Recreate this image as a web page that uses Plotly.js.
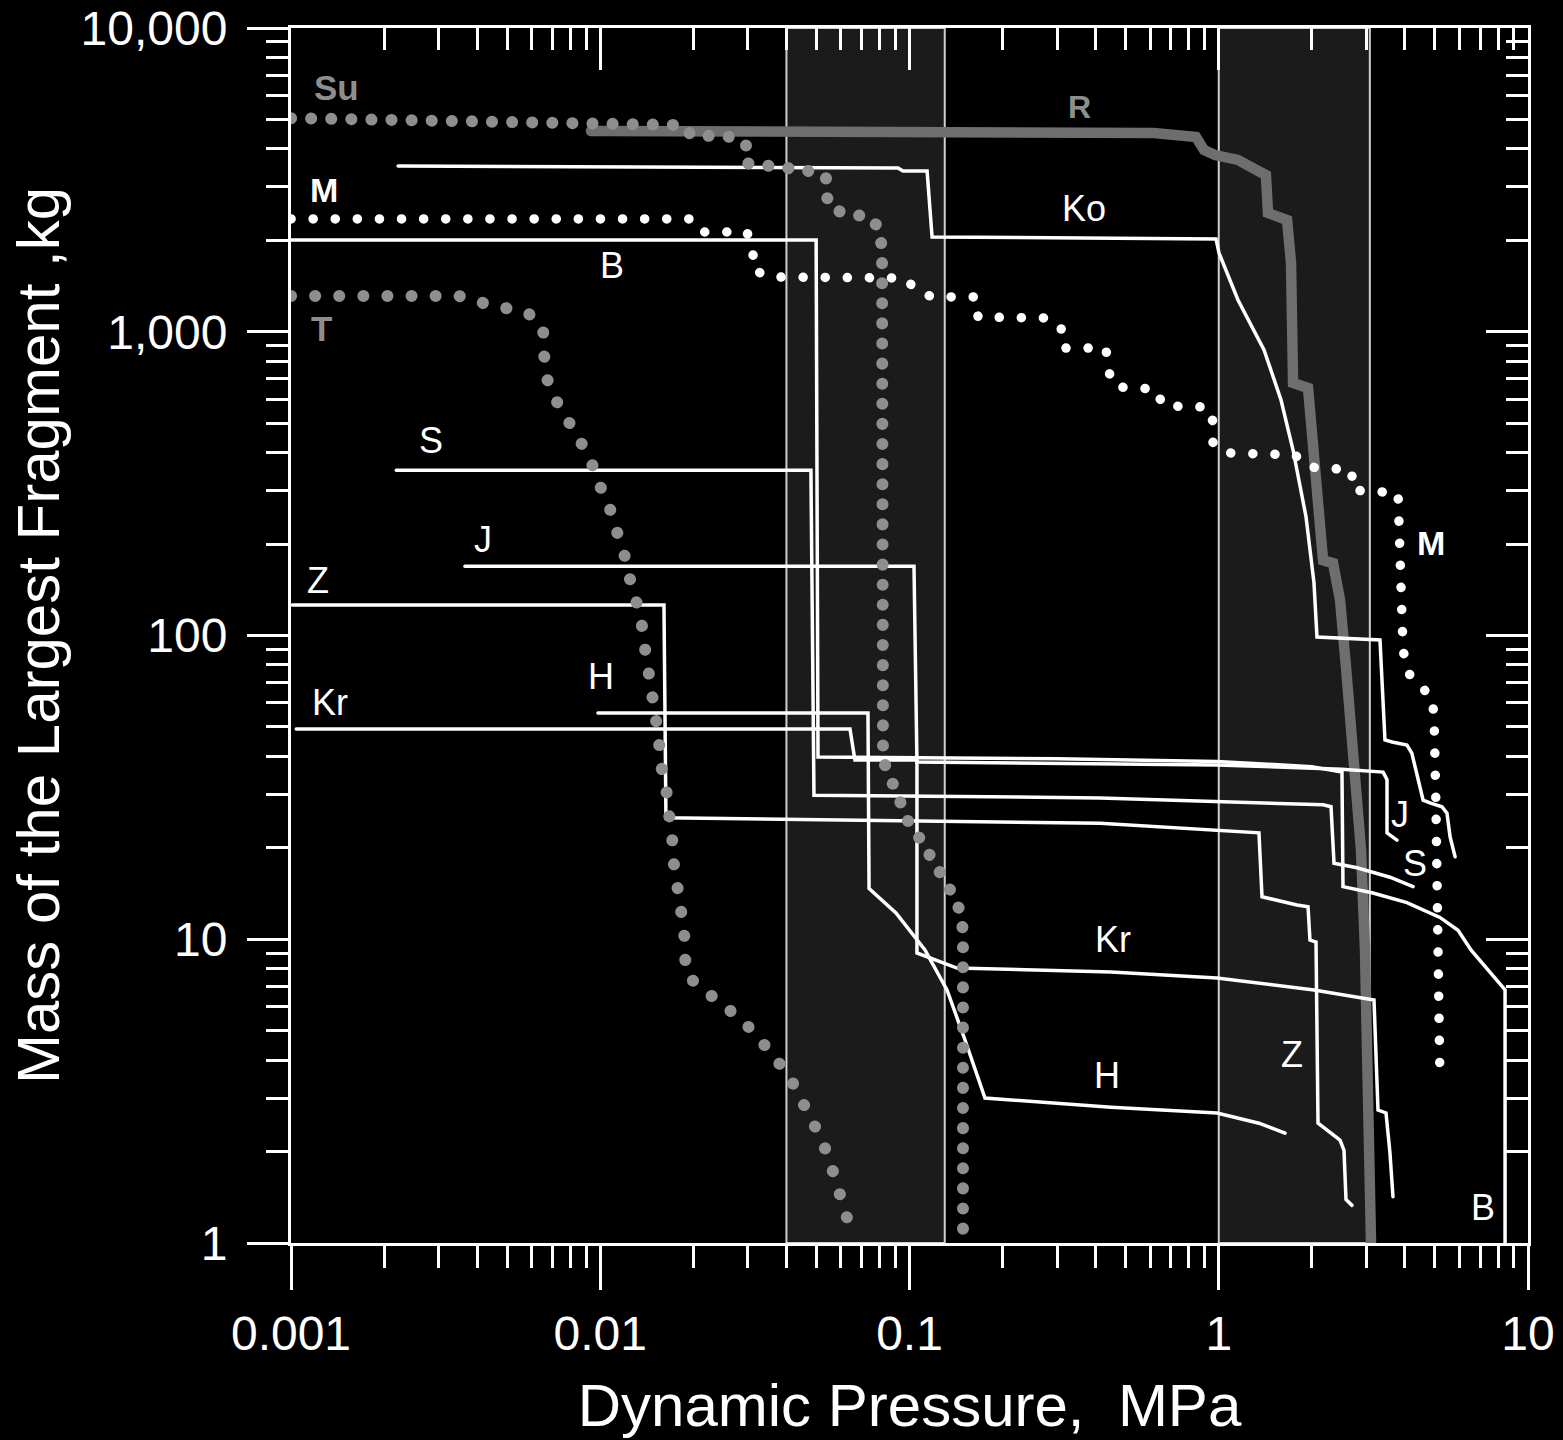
<!DOCTYPE html>
<html>
<head>
<meta charset="utf-8">
<script src="https://cdn.plot.ly/plotly-3.0.1.min.js"></script>
<style>
html, body { margin: 0; padding: 0; background: #000; }
#chart .js-line { stroke-linecap: round; }
</style>
</head>
<body>
<div id="chart" style="width:1563px;height:1440px;"></div>
<script>
// ---------- data (x: dynamic pressure, MPa; y: mass of largest fragment, kg) ----------
const suX = [0.001, 0.00624, 0.0184, 0.0197, 0.0269, 0.0296, 0.0296, 0.0402, 0.0473, 0.0537, 0.0537, 0.0562, 0.0662, 0.0751, 0.0803, 0.0815, 0.0821, 0.0878, 0.0953, 0.0996, 0.1089, 0.1183, 0.1265, 0.1372, 0.1467, 0.1489, 0.1489];
const suY = [5050, 4900, 4790, 4440, 4380, 4120, 3590, 3460, 3380, 3230, 2820, 2520, 2420, 2370, 2160, 1820, 38.9, 32.7, 28.1, 24.1, 21.2, 18.5, 16.0, 14.2, 12.2, 10.5, 1.0];

const tX = [0.001, 0.00349, 0.00418, 0.00492, 0.00584, 0.00653, 0.00663, 0.00663, 0.00703, 0.00775, 0.00854, 0.00927, 0.00983, 0.0106, 0.01116, 0.01185, 0.01229, 0.01295, 0.01354, 0.01385, 0.01427, 0.01481, 0.01515, 0.01549, 0.01561, 0.01631, 0.01656, 0.01706, 0.01719, 0.01771, 0.01838, 0.01866, 0.01879, 0.01894, 0.02165, 0.02513, 0.02873, 0.0326, 0.03674, 0.04078, 0.04425, 0.04802, 0.05212, 0.05534, 0.05873, 0.06186, 0.0647];
const tY = [1312, 1312, 1244, 1197, 1152, 1037, 891, 731, 619, 524, 450, 384, 320, 275, 228, 194, 162, 136, 114, 95.2, 78.8, 67.2, 55.6, 45.3, 38.3, 32.2, 27.0, 22.4, 18.5, 15.4, 12.97, 10.7, 9.01, 7.63, 6.81, 6.07, 5.42, 4.73, 4.13, 3.55, 3.02, 2.60, 2.18, 1.85, 1.55, 1.31, 1.095];

const mX = [0.001, 0.0197, 0.0213, 0.0298, 0.0312, 0.0312, 0.0357, 0.0967, 0.105, 0.1183, 0.1641, 0.1666, 0.2763, 0.309, 0.3136, 0.4319, 0.4384, 0.4619, 0.627, 0.6602, 0.9231, 0.9581, 0.9581, 1.087, 1.765, 1.93, 2.697, 2.697, 3.799, 3.827, 3.943, 4.06, 4.41, 4.89, 4.97, 5.04, 5.12, 5.19];
const mY = [2351, 2351, 2130, 2130, 1858, 1597, 1514, 1503, 1372, 1302, 1302, 1118, 1110, 1037, 884, 884, 748, 658, 648, 570, 565, 505, 424, 399, 393, 359, 351, 301, 295, 249, 90.3, 76.4, 68.7, 63.2, 53.9, 27.0, 11.6, 3.49];

const rX = [0.00933, 0.0932, 0.617, 0.844, 0.896, 0.972, 1.154, 1.272, 1.421, 1.443, 1.663, 1.713, 1.739, 1.944, 2.032, 2.174, 2.342, 2.467, 2.579, 2.737, 2.884, 2.971, 3.038, 3.107];
const rY = [4580, 4546, 4512, 4376, 3966, 3818, 3677, 3486, 3281, 2460, 2333, 1684, 678, 653, 359, 177, 173, 131, 78.8, 42.0, 19.7, 9.22, 3.36, 1.0];

const koX = [0.00222, 0.0918, 0.0953, 0.114, 0.1183, 0.9797, 1.002, 1.154, 1.401, 1.590, 1.739, 1.915, 2.032, 2.078, 3.322, 3.447, 3.633, 4.06, 4.21, 4.41, 4.58, 4.82, 5.27, 5.47, 5.60, 5.81];
const koY = [3513, 3460, 3382, 3382, 2051, 2020, 1816, 1272, 871, 596, 408, 246, 149, 98.9, 96.7, 45.3, 44.6, 43.6, 41.0, 33.4, 28.7, 28.1, 27.3, 26.0, 21.7, 18.7];

const bX = [0.001, 0.0499, 0.0506, 0.3, 0.987, 2.0, 2.503, 2.522, 3.153, 4.06, 5.19, 5.94, 6.54, 8.43, 8.43];
const bY = [2005, 2005, 39.8, 39.3, 38.5, 37.0, 35.5, 14.9, 14.2, 13.2, 11.8, 10.7, 9.22, 6.81, 1.0];

const sX = [0.00219, 0.048, 0.0491, 0.413, 2.174, 2.307, 2.359, 2.80, 3.578, 4.25];
const sY = [350, 350, 29.8, 29.2, 27.7, 27.3, 17.8, 17.2, 16.0, 14.9];

const jX = [0.00365, 0.1034, 0.1057, 0.987, 2.5, 3.40, 3.50, 3.50, 3.77];
const jY = [169, 169, 38.3, 37.5, 36.3, 35.5, 33.5, 22.4, 21.2];

const zX = [0.00101, 0.01607, 0.01631, 0.413, 1.349, 1.38, 1.79, 1.944, 1.972, 2.063, 2.094, 2.467, 2.541, 2.579, 2.697];
const zY = [126, 126, 25.1, 24.1, 22.4, 13.8, 12.97, 12.8, 9.94, 9.79, 2.48, 2.18, 2.02, 1.39, 1.33];

const hX = [0.00983, 0.0734, 0.074, 0.0904, 0.1122, 0.1322, 0.1512, 0.1754, 0.4483, 0.987, 1.349, 1.638];
const hY = [55.6, 55.6, 14.7, 12.2, 9.22, 6.81, 4.66, 3.0, 2.8, 2.68, 2.48, 2.3];

const krX = [0.00104, 0.0642, 0.0666, 0.1057, 0.1057, 0.1424, 0.4483, 0.987, 2.032, 3.177, 3.273, 3.474, 3.578, 3.659];
const krY = [49.2, 49.2, 38.9, 38.9, 9.01, 8.04, 7.80, 7.46, 6.81, 6.31, 2.74, 2.68, 1.98, 1.42];

// shaded pressure ranges (MPa)
const bandStart = [0.04, 1.0];
const bandEnd = [0.13, 3.08];

// tick labels
const xTickVals = [0.001, 0.01, 0.1, 1, 10];
const xTickText = ['0.001', '0.01', '0.1', '1', '10'];
const yTickVals = [1, 10, 100, 1000, 10000];
const yTickText = ['1', '10', '100', '1,000', '10,000'];

// ---------- styling / build ----------
function minorVals(decades) {
  const out = [];
  decades.forEach(d => { for (let k = 2; k <= 9; k++) out.push(+(k * d).toPrecision(3)); });
  return out;
}
const xMinor = minorVals([0.001, 0.01, 0.1, 1]);
const yMinor = minorVals([1, 10, 100, 1000]);

const WHITE = '#ffffff';
const GRAY = '#8e8e8e';
const FONT = 'Liberation Sans, Arial, Helvetica, sans-serif';

function solid(x, y, name) {
  return { type: 'scatter', mode: 'lines', x: x, y: y, name: name,
    line: { color: WHITE, width: 3.5 }, hoverinfo: 'skip', showlegend: false };
}
function dotted(x, y, name, color, w, gap) {
  return { type: 'scatter', mode: 'lines', x: x, y: y, name: name,
    line: { color: color, width: w, dash: '0.1px,' + gap + 'px' }, hoverinfo: 'skip', showlegend: false };
}

const traces = [
  { type: 'scatter', mode: 'lines', x: rX, y: rY, name: 'R',
    line: { color: '#6e6e6e', width: 10.5 }, hoverinfo: 'skip', showlegend: false },
  solid(koX, koY, 'Ko'),
  solid(bX, bY, 'B'),
  solid(sX, sY, 'S'),
  solid(jX, jY, 'J'),
  solid(zX, zY, 'Z'),
  solid(hX, hY, 'H'),
  solid(krX, krY, 'Kr'),
  dotted(mX, mY, 'M', WHITE, 9.5, 22),
  dotted(suX, suY, 'Su', GRAY, 12, 20),
  dotted(tX, tY, 'T', GRAY, 12, 24),
  // carriers for the mirrored (top / right) axes
  { type: 'scatter', mode: 'lines', x: [], y: [], xaxis: 'x2', yaxis: 'y', showlegend: false, hoverinfo: 'skip' },
  { type: 'scatter', mode: 'lines', x: [], y: [], xaxis: 'x', yaxis: 'y2', showlegend: false, hoverinfo: 'skip' }
];

const shapes = bandStart.map((s, i) => ({
  type: 'rect', xref: 'x', yref: 'paper',
  x0: s, x1: bandEnd[i], y0: 0, y1: 1,
  fillcolor: '#1b1b1b', line: { color: '#d0d0d0', width: 2 }, layer: 'below'
}));

function lab(text, lx, ly, color, bold, size) {
  return { text: text, x: lx, y: ly, xref: 'x', yref: 'y', showarrow: false,
    xanchor: 'center', yanchor: 'middle',
    font: { family: FONT, size: size || 36, color: color || WHITE, weight: bold ? 'bold' : 'normal' } };
}
const annotations = [
  lab('Su', -2.8545, 3.8025, GRAY, true, 35),
  lab('M', -2.8933, 3.4667, WHITE, true, 34),
  lab('T', -2.903, 3.0091, GRAY, true, 35),
  lab('B', -1.962, 3.2165),
  lab('R', -0.4487, 3.7399, GRAY, true, 32),
  lab('Ko', -0.4357, 3.4074),
  lab('S', -2.5473, 2.6436),
  lab('J', -2.3791, 2.3177),
  lab('Z', -2.9127, 2.1827),
  lab('H', -1.9976, 1.8634),
  lab('Kr', -2.8739, 1.7778),
  lab('M', 0.6863, 2.3045, WHITE, true, 34),
  lab('J', 0.5861, 1.4091),
  lab('S', 0.6346, 1.251),
  lab('Kr', -0.3419, 1.0008),
  lab('Z', 0.2369, 0.6222),
  lab('H', -0.3613, 0.5531),
  lab('B', 0.8545, 0.1185)
];

const axisCommon = {
  type: 'log', showgrid: false, zeroline: false, showline: true,
  linecolor: WHITE, linewidth: 3, tickcolor: WHITE, tickwidth: 3,
  fixedrange: true
};

const layout = {
  width: 1563, height: 1440,
  paper_bgcolor: '#000', plot_bgcolor: '#000',
  margin: { l: 291, r: 35, t: 28, b: 197 },
  showlegend: false,
  font: { family: FONT, color: WHITE },
  xaxis: Object.assign({}, axisCommon, {
    range: [-3, 1], tickmode: 'array', tickvals: xTickVals, ticktext: xTickText,
    ticks: 'outside', ticklen: 44, ticklabelstandoff: 2,
    tickfont: { family: FONT, size: 48, color: WHITE },
    minor: { tickmode: 'array', tickvals: xMinor, ticks: 'outside', ticklen: 22, tickwidth: 3, tickcolor: WHITE, showgrid: false },
    title: { text: 'Dynamic Pressure,\u00a0 MPa', font: { family: FONT, size: 60, color: WHITE }, standoff: 26 }
  }),
  yaxis: Object.assign({}, axisCommon, {
    range: [0, 4], tickmode: 'array', tickvals: yTickVals, ticktext: yTickText,
    ticks: 'outside', ticklen: 41, ticklabelstandoff: 10,
    tickfont: { family: FONT, size: 48, color: WHITE },
    minor: { tickmode: 'array', tickvals: yMinor, ticks: 'outside', ticklen: 22, tickwidth: 3, tickcolor: WHITE, showgrid: false },
    title: { text: 'Mass of the Largest Fragment ,kg', font: { family: FONT, size: 60, color: WHITE }, standoff: 2 }
  }),
  xaxis2: Object.assign({}, axisCommon, {
    overlaying: 'x', side: 'top', anchor: 'y',
    range: [-3, 1], tickmode: 'array', tickvals: xTickVals, showticklabels: false,
    ticks: 'inside', ticklen: 42,
    minor: { tickmode: 'array', tickvals: xMinor, ticks: 'inside', ticklen: 22, tickwidth: 3, tickcolor: WHITE, showgrid: false }
  }),
  yaxis2: Object.assign({}, axisCommon, {
    overlaying: 'y', side: 'right', anchor: 'x',
    range: [0, 4], tickmode: 'array', tickvals: yTickVals, showticklabels: false,
    ticks: 'inside', ticklen: 42,
    minor: { tickmode: 'array', tickvals: yMinor, ticks: 'inside', ticklen: 22, tickwidth: 3, tickcolor: WHITE, showgrid: false }
  }),
  shapes: shapes,
  annotations: annotations
};

Plotly.newPlot('chart', traces, layout, { displayModeBar: false, staticPlot: true });
</script>
</body>
</html>
